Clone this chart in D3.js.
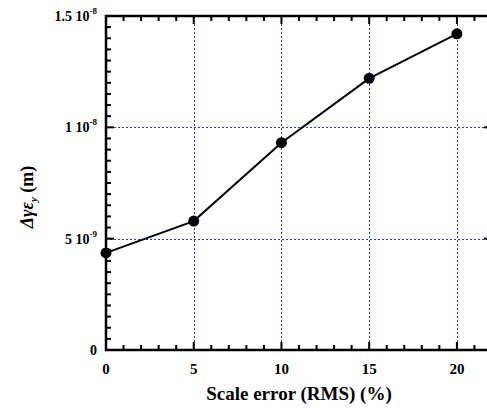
<!DOCTYPE html>
<html>
<head>
<meta charset="utf-8">
<script src="https://cdn.jsdelivr.net/npm/d3@7"></script>
<style>
  html, body { margin: 0; padding: 0; background: #fff; }
  #container { width: 487px; height: 408px; overflow: hidden; }
  svg text { font-family: "Times New Roman", Times, "Liberation Serif", "DejaVu Serif", serif; font-weight: 700; }
</style>
</head>
<body>
<div id="container"></div>
<script>
// data
const scaleError = [0, 5, 10, 15, 20];
const deltaEmit = [4.36e-9, 5.79e-9, 9.31e-9, 12.2e-9, 14.2e-9];
const xTicks = [0, 5, 10, 15, 20];
const yTicks = [0, 5e-9, 1e-8, 1.5e-8];
const yTickLabels = [["0", ""], ["5 10", "-9"], ["1 10", "-8"], ["1.5 10", "-8"]];

const width = 487, height = 408;
const margin = {left: 106, top: 16, right: -5, bottom: 58};

const svg = d3.select("#container")
  .append("svg")
  .attr("width", width)
  .attr("height", height);

const x = d3.scaleLinear()
  .domain([0, 22])
  .range([margin.left, width - margin.right]);

const y = d3.scaleLinear()
  .domain([0, 1.5e-8])
  .range([height - margin.bottom, margin.top]);

const px = v => Math.round(v) + 0.5;
const x0 = x.range()[0], x1 = x.range()[1];
const y0 = y.range()[0], y1 = y.range()[1];

// grid lines (dotted blue)
const grid = svg.append("g")
  .attr("stroke", "#3030e0")
  .attr("stroke-width", 1)
  .attr("stroke-dasharray", "2,2");

grid.selectAll("line.gx")
  .data(xTicks.filter(d => d > 0))
  .enter().append("line")
  .attr("x1", d => px(x(d))).attr("x2", d => px(x(d)))
  .attr("y1", y0).attr("y2", y1);

grid.selectAll("line.gy")
  .data(yTicks.filter(d => d > 0 && d < 1.5e-8))
  .enter().append("line")
  .attr("x1", x0).attr("x2", x1)
  .attr("y1", d => px(y(d))).attr("y2", d => px(y(d)));

// ticks on all four sides, pointing inward
const xMinor = d3.range(0, 23, 1);
const yMinor = d3.range(0, 31).map(i => i * 5e-10);
const ticks = svg.append("g").attr("stroke", "#000").attr("stroke-width", 2);

xMinor.forEach(v => {
  const len = v % 5 === 0 ? 8 : 5;
  ticks.append("line").attr("x1", x(v)).attr("x2", x(v)).attr("y1", y0).attr("y2", y0 - len);
  ticks.append("line").attr("x1", x(v)).attr("x2", x(v)).attr("y1", y1).attr("y2", y1 + len);
});
yMinor.forEach((v, i) => {
  const len = i % 10 === 0 ? 8 : 5;
  ticks.append("line").attr("x1", x0).attr("x2", x0 + len).attr("y1", y(v)).attr("y2", y(v));
  ticks.append("line").attr("x1", x1).attr("x2", x1 - len).attr("y1", y(v)).attr("y2", y(v));
});

// frame
svg.append("rect")
  .attr("x", x0).attr("y", y1)
  .attr("width", x1 - x0).attr("height", y0 - y1)
  .attr("fill", "none")
  .attr("stroke", "#000")
  .attr("stroke-width", 2.5);

// x tick labels
svg.selectAll("text.xt")
  .data(xTicks)
  .enter().append("text")
  .attr("x", d => x(d))
  .attr("y", y0 + 24)
  .attr("text-anchor", "middle")
  .style("font-size", "15px")
  .text(d => d);

// y tick labels with superscript exponent
yTicks.forEach((v, i) => {
  const t = svg.append("text")
    .attr("x", 97)
    .attr("y", y(v) + 5)
    .attr("text-anchor", "end")
    .style("font-size", "14px");
  t.append("tspan").text(yTickLabels[i][0]);
  if (yTickLabels[i][1]) {
    t.append("tspan").attr("dy", -7).style("font-size", "9px").text(yTickLabels[i][1]);
  }
});

// line and markers
const line = d3.line()
  .x((d, i) => x(scaleError[i]))
  .y(d => y(d));

svg.append("path")
  .datum(deltaEmit)
  .attr("d", line)
  .attr("fill", "none")
  .attr("stroke", "#000")
  .attr("stroke-width", 2);

svg.selectAll("circle")
  .data(deltaEmit)
  .enter().append("circle")
  .attr("cx", (d, i) => x(scaleError[i]))
  .attr("cy", d => y(d))
  .attr("r", 5.5)
  .attr("fill", "#000");

// axis titles
svg.append("text")
  .attr("x", 299)
  .attr("y", 400)
  .attr("text-anchor", "middle")
  .style("font-size", "19px")
  .text("Scale error (RMS) (%)");

const yl = svg.append("text")
  .attr("transform", "translate(33,197) rotate(-90)")
  .attr("text-anchor", "middle")
  .style("font-size", "18px");
yl.append("tspan").style("font-style", "italic").text("\u0394\u03b3\u03b5");
yl.append("tspan").attr("dy", 4).style("font-size", "11px").style("font-style", "italic").text("y");
yl.append("tspan").attr("dy", -4).text(" (m)");
</script>
</body>
</html>
